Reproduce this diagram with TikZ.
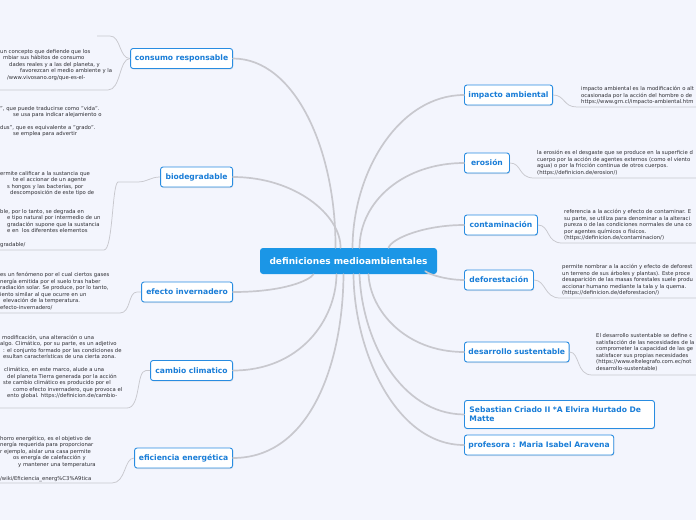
\documentclass[tikz,border=0pt]{standalone}
\usepackage{fontspec}
\setmainfont{DejaVu Sans}
\usetikzlibrary{shadows}
\definecolor{bgc}{RGB}{243,245,253}
\definecolor{nodeblue}{RGB}{40,140,225}
\definecolor{labelblue}{RGB}{25,125,215}
\definecolor{centerblue}{RGB}{27,150,230}
\definecolor{linegray}{RGB}{200,200,206}
\definecolor{txtgray}{RGB}{45,45,50}
\tikzset{
  topic/.style={draw=nodeblue, line width=0.9pt, fill=white, rounded corners=2.5pt,
    text=labelblue, font=\fontsize{7.6}{9}\selectfont\bfseries, minimum height=20pt,
    inner xsep=4pt, inner ysep=2pt,
    drop shadow={opacity=0.18, shadow xshift=0.6pt, shadow yshift=-1pt}},
  central/.style={fill=centerblue, rounded corners=3pt, text=white,
    font=\fontsize{9}{10.5}\selectfont\bfseries, minimum width=177pt, minimum height=26pt},
  desc/.style={anchor=north west, align=left, inner sep=0pt, text=txtgray,
    font=\fontsize{5.3}{6.5}\selectfont},
  mainlink/.style={draw=linegray, line width=1.7pt, line cap=round},
  sublink/.style={draw=linegray, line width=0.75pt},
}
\begin{document}
\begin{tikzpicture}[x=1pt, y=-1pt]
\useasboundingbox (0,0) rectangle (696,520);
\fill[bgc] (0,0) rectangle (696,520);
\clip (0,0) rectangle (696,520);

% central and topic nodes
\node[central] (c) at (348.5,261) {definiciones medioambientales};

\node[topic, minimum width=102pt, anchor=east] (cr) at (233,58.5) {consumo responsable};
\node[topic, minimum width=72pt, anchor=east] (bd) at (233,177) {biodegradable};
\node[topic, minimum width=91pt, anchor=east] (ei) at (233,292) {efecto invernadero};
\node[topic, minimum width=82pt, anchor=east] (cc) at (233,370.5) {cambio climatico};
\node[topic, minimum width=98pt, anchor=east] (ee) at (233,458) {eficiencia energética};

\node[topic, minimum width=88pt, anchor=west] (ia) at (464,95) {impacto ambiental};
\node[topic, minimum width=45pt, anchor=west] (er) at (464,163) {erosión};
\node[topic, minimum width=73pt, anchor=west] (co) at (464,225) {contaminación};
\node[topic, minimum width=69pt, anchor=west] (de) at (464,280) {deforestación};
\node[topic, minimum width=103pt, anchor=west] (ds) at (464,352) {desarrollo sustentable};
\node[topic, anchor=north west, align=left, text width=180pt, minimum height=28pt, inner xsep=5pt] (sc) at (464,400)
  {Sebastian Criado II *A Elvira Hurtado De\\Matte};
\node[topic, minimum width=136pt, anchor=west] (pr) at (464,445) {profesora : Maria Isabel Aravena};

% main connectors
\draw[mainlink] (cr.east) .. controls (295,58.5) and (336,150) .. ([xshift=-13pt]c.north);
\draw[mainlink] (bd.east) .. controls (295,177) and (341,215) .. ([xshift=-8pt]c.north);
\draw[mainlink] (ia.west) .. controls (400,95) and (353,170) .. ([xshift=4pt]c.north);
\draw[mainlink] (er.west) .. controls (405,163) and (360,200) .. ([xshift=11pt]c.north);
\draw[mainlink] (co.west) .. controls (425,225) and (392,238) .. ([xshift=40pt]c.north);
\draw[mainlink] (de.west) .. controls (448,280) and (430,275) .. ([xshift=-12pt,yshift=3pt]c.south east);
\draw[mainlink] (ei.east) .. controls (285,292) and (310,280) .. ([xshift=-35pt]c.south);
\draw[mainlink] (cc.east) .. controls (300,370.5) and (336,320) .. ([xshift=-12pt]c.south);
\draw[mainlink] (ee.east) .. controls (312,458) and (343,360) .. ([xshift=-5pt]c.south);
\draw[mainlink] (ds.west) .. controls (405,352) and (370,310) .. ([xshift=20pt]c.south);
\draw[mainlink] (sc.west) .. controls (400,414) and (362,340) .. ([xshift=11pt]c.south);
\draw[mainlink] (pr.west) .. controls (395,445) and (354,350) .. ([xshift=5pt]c.south);

% free ends of the text links
\coordinate (crA) at (97,36);
\coordinate (crB) at (-5,90);
\coordinate (bdA) at (-5,250);
\coordinate (eiA) at (-5,313);
\coordinate (ccA) at (-5,408);
\coordinate (eeA) at (-5,483);
\coordinate (iaA) at (700,107);
\coordinate (erA) at (700,178);
\coordinate (coA) at (700,243);
\coordinate (deA) at (700,298);
\coordinate (dsA) at (700,375);

% text links
\draw[sublink] (cr.west) .. controls (119,58.5) and (121,36) .. (110,36) -- (crA);
\draw[sublink] (cr.west) .. controls (119,58.5) and (121,90) .. (108,90) -- (crB);
\draw[sublink] (bd.west) .. controls (150,177) and (148,182) .. (137,182) -- (118,182)
   .. controls (112,184) and (113,250) .. (104,250) -- (bdA);
\draw[sublink] (ei.west) -- (137,292) .. controls (128,292) and (131,313) .. (120,313) -- (eiA);
\draw[sublink] (cc.west) -- (146,370.5) .. controls (136,370.5) and (141,408) .. (127,408) -- (ccA);
\draw[sublink] (ee.west) .. controls (124,458) and (126,483) .. (112,483) -- (eeA);
\draw[sublink] (ia.east) .. controls (565,95) and (563,107) .. (577,107) -- (iaA);
\draw[sublink] (er.east) .. controls (522,163) and (518,178) .. (534,178) -- (erA);
\draw[sublink] (co.east) .. controls (550,225) and (546,243) .. (562,243) -- (coA);
\draw[sublink] (de.east) .. controls (546,280) and (544,298) .. (560,298) -- (deA);
\draw[sublink] (ds.east) .. controls (580,352) and (576,375) .. (592,375) -- (dsA);

% right text blocks
\node[desc] (tia) at (581,86.5) {impacto ambiental es la modificación o alt\\
ocasionada por la acción del hombre o de\\
https://www.grn.cl/impacto-ambiental.htm};
\node[desc] (ter) at (537,150.5) {la erosión es el desgaste que se produce en la superficie d\\
cuerpo por la acción de agentes externos (como el viento\\
agua) o por la fricción continua de otros cuerpos.\\
(https://definicion.de/erosion/)};
\node[desc] (tco) at (564,209.2) {referencia a la acción y efecto de contaminar. E\\
su parte, se utiliza para denominar a la alteraci\\
pureza o de las condiciones normales de una co\\
por agentes químicos o físicos.\\
(https://definicion.de/contaminacion/)};
\node[desc] (tde) at (562,264.5) {permite nombrar a la acción y efecto de deforest\\
un terreno de sus árboles y plantas). Este proce\\
desaparición de las masas forestales suele produ\\
accionar humano mediante la tala y la quema.\\
(https://definicion.de/deforestacion/)};
\node[desc] (tds) at (596,333.5) {El desarrollo sustentable se define c\\
satisfacción de las necesidades de la\\
comprometer la capacidad de las ge\\
satisfacer sus propias necesidades\\
(https://www.eltelegrafo.com.ec/not\\
desarrollo-sustentable)};

% left text blocks
\node[desc] (tcr) at (0,49.2) {un concepto que defiende que los\\
\hspace*{3pt}mbiar sus hábitos de consumo\\
\hspace*{9pt}dades reales y a las del planeta, y\\
\hspace*{20pt}favorezcan el medio ambiente y la\\
\hspace*{7pt}/www.vivosano.org/que-es-el-};
\node[desc] (tbd1) at (0,105.8) {", que puede traducirse como "vida".\\
\hspace*{13pt}se usa para indicar alejamiento o};
\node[desc] (tbd2) at (0,125.2) {dus", que es equivalente a "grado".\\
\hspace*{13pt}se emplea para advertir};
\node[desc] (tbd3) at (0,170.8) {ermite calificar a la sustancia que\\
\hspace*{13pt}te el accionar de un agente\\
\hspace*{7pt}s hongos y las bacterias, por\\
\hspace*{10pt}descomposición de este tipo de};
\node[desc] (tbd4) at (0,209.2) {ble, por lo tanto, se degrada en\\
\hspace*{7pt}e tipo natural por intermedio de un\\
\hspace*{7pt}gradación supone que la sustancia\\
\hspace*{7pt}e en \ los diferentes elementos};
\node[desc] (tbd5) at (0,242.5) {gradable/};
\node[desc] (tei) at (0,272.5) {es un fenómeno por el cual ciertos gases\\
nergía emitida por el suelo tras haber\\
radiación solar. Se produce, por lo tanto,\\
iento similar al que ocurre en un\\
\hspace*{3pt}elevación de la temperatura.\\
efecto-invernadero/};
\node[desc] (tcc1) at (0,334.8) {\hspace*{2pt}modificación, una alteración o una\\
algo. Climático, por su parte, es un adjetivo\\
\hspace*{3pt}: el conjunto formado por las condiciones de\\
\hspace*{3pt}esultan características de una cierta zona.};
\node[desc] (tcc2) at (0,367.5) {\hspace*{4pt}climático, en este marco, alude a una\\
\hspace*{7pt}del planeta Tierra generada por la acción\\
\hspace*{3pt}ste cambio climático es producido por el\\
\hspace*{13pt}como efecto invernadero, que provoca el\\
\hspace*{7pt}ento global. https://definicion.de/cambio-};
\node[desc] (tee1) at (0,435.8) {horro energético, es el objetivo de\\
nergía requerida para proporcionar\\
r ejemplo, aislar una casa permite\\
\hspace*{13pt}os energía de calefacción y\\
\hspace*{18pt}y mantener una temperatura};
\node[desc] (tee2) at (0,475.8) {/wiki/Eficiencia\_energ\%C3\%A9tica};
\end{tikzpicture}
\end{document}
